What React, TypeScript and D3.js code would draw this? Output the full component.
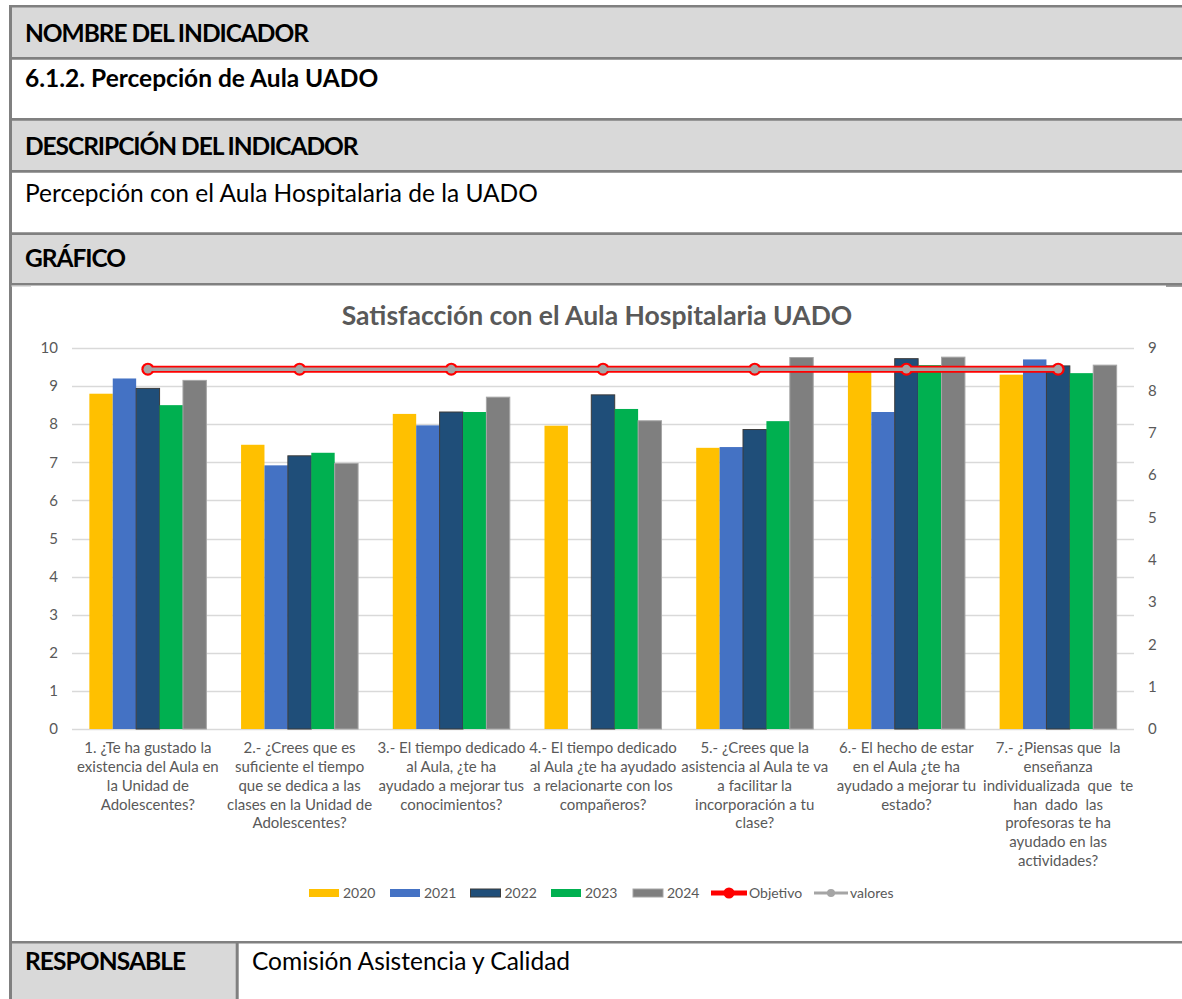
import { useEffect, useRef } from "react"
import * as d3 from "d3"

// ---- data ----
const categories = ['P1', 'P2', 'P3', 'P4', 'P5', 'P6', 'P7']
const categoryLines = [
    ['1. ¿Te ha gustado la', 'existencia del Aula en', 'la Unidad de', 'Adolescentes?'],
    ['2.- ¿Crees que es', 'suficiente el tiempo', 'que se dedica a las', 'clases en la Unidad de', 'Adolescentes?'],
    ['3.- El tiempo dedicado', 'al Aula, ¿te ha', 'ayudado a mejorar tus', 'conocimientos?'],
    ['4.- El tiempo dedicado', 'al Aula ¿te ha ayudado', 'a relacionarte con los', 'compañeros?'],
    ['5.- ¿Crees que la', 'asistencia al Aula te va', 'a facilitar la', 'incorporación a tu', 'clase?'],
    ['6.- El hecho de estar', 'en el Aula ¿te ha', 'ayudado a mejorar tu', 'estado?'],
    ['7.- ¿Piensas que  la', 'enseñanza', 'individualizada  que  te', 'han  dado  las', 'profesoras te ha', 'ayudado en las', 'actividades?'],
]
const years = ['2020', '2021', '2022', '2023', '2024']
const v2020 = [8.8, 7.46, 8.27, 7.96, 7.38, 9.45, 9.3]
const v2021 = [9.2, 6.92, 7.97, null, 7.4, 8.32, 9.7]
const v2022 = [8.94, 7.17, 8.32, 8.77, 7.86, 9.72, 9.53]
const v2023 = [8.5, 7.25, 8.32, 8.4, 8.08, 9.55, 9.34]
const v2024 = [9.15, 6.97, 8.71, 8.09, 9.75, 9.76, 9.55]
const objetivo = [8.5, 8.5, 8.5, 8.5, 8.5, 8.5, 8.5]
const valores = [8.5, 8.5, 8.5, 8.5, 8.5, 8.5, 8.5]
const leftTicks = [0, 1, 2, 3, 4, 5, 6, 7, 8, 9, 10]
const rightTicks = [0, 1, 2, 3, 4, 5, 6, 7, 8, 9]

const chartTitle = 'Satisfacción con el Aula Hospitalaria UADO'
// caps headings get a bit of negative tracking (Lato caps run wider than Calibri)
const tableTexts = [
    { text: 'NOMBRE DEL INDICADOR', bold: true, caps: true },
    { text: '6.1.2. Percepción de Aula UADO', bold: true, caps: false },
    { text: 'DESCRIPCIÓN DEL INDICADOR', bold: true, caps: true },
    { text: 'Percepción con el Aula Hospitalaria de la UADO', bold: false, caps: false },
    { text: 'GRÁFICO', bold: true, caps: true },
]
const responsableLabel = 'RESPONSABLE'
const responsableValue = 'Comisión Asistencia y Calidad'

const FONT = 'Lato, Carlito, Calibri, sans-serif'
const TEXT_GRAY = '#595959'
const BORDER = '#808080'

export default function App() {
    const ref = useRef<SVGSVGElement>(null)

    useEffect(() => {
        const svg = d3.select(ref.current)
        svg.selectAll('*').remove()
        buildTable(svg)
        buildChart(svg)
    }, [])

    function buildTable(svg: any) {
        const width = 1182
        svg.append('rect').attr('width', width).attr('height', 999).attr('fill', 'white')

        // grey header rows
        const greyRows = [[7, 57], [120, 170], [234, 283]]
        svg.append('g').selectAll('rect')
            .data(greyRows)
            .join('rect')
                .attr('x', 11).attr('y', (d: number[]) => d[0])
                .attr('width', width - 11).attr('height', (d: number[]) => d[1] - d[0] + 1)
                .attr('fill', '#d9d9d9')
        svg.append('rect')
            .attr('x', 11).attr('y', 943).attr('width', 225).attr('height', 56)
            .attr('fill', '#d9d9d9')

        // borders
        const hLines = [6.2, 58.4, 119.4, 171.4, 233.6, 284.3, 942.3]
        svg.append('g').selectAll('line')
            .data(hLines)
            .join('line')
                .attr('x1', 9).attr('x2', width)
                .attr('y1', (d: number) => d).attr('y2', (d: number) => d)
                .attr('stroke', BORDER).attr('stroke-width', 2.6)
        svg.append('line')
            .attr('x1', 10.5).attr('x2', 10.5).attr('y1', 5).attr('y2', 999)
            .attr('stroke', BORDER).attr('stroke-width', 3)
        svg.append('line')
            .attr('x1', 237.2).attr('x2', 237.2).attr('y1', 941).attr('y2', 999)
            .attr('stroke', BORDER).attr('stroke-width', 3)
        // little bits of the chart frame
        svg.append('line').attr('x1', 11).attr('x2', 31).attr('y1', 286).attr('y2', 286)
            .attr('stroke', '#bfbfbf').attr('stroke-width', 1)
        svg.append('line').attr('x1', 1166).attr('x2', width).attr('y1', 286).attr('y2', 286)
            .attr('stroke', BORDER).attr('stroke-width', 1.5)

        const rowCenters = [33, 78, 146, 193, 258]
        svg.append('g')
            .selectAll('text')
            .data(tableTexts)
            .join('text')
                .attr('x', 25)
                .attr('y', (_: any, i: number) => rowCenters[i])
                .attr('dy', '0.36em')
                .attr('font-family', FONT)
                .attr('font-size', 24.5)
                .attr('font-weight', (d: any) => d.bold ? 700 : 400)
                .attr('letter-spacing', (d: any) => d.caps ? -1.05 : 0)
                .attr('fill', 'black')
                .text((d: any) => d.text)

        svg.append('text')
            .attr('x', 25).attr('y', 961).attr('dy', '0.36em')
            .attr('font-family', FONT).attr('font-size', 24.5).attr('font-weight', 700)
            .attr('letter-spacing', -0.9)
            .text(responsableLabel)
        svg.append('text')
            .attr('x', 252).attr('y', 961).attr('dy', '0.36em')
            .attr('font-family', FONT).attr('font-size', 24.5)
            .text(responsableValue)
    }

    function buildChart(svg: any, {
        marginLeft = 72, // plot area left
        marginRight = 1134, // plot area right
        top = 348, // y of the top gridline
        bottom = 729, // y of the zero line
    } = {}) {
        const series = [v2020, v2021, v2022, v2023, v2024]
        const colors = ['#ffc000', '#4472c4', '#1f4e79', '#00b050', '#7f7f7f']
        const strokes = ['none', 'none', '#3b3b3b', 'none', '#a6a6a6']

        const x0 = d3.scaleBand()
            .domain(categories)
            .range([marginLeft, marginRight])
            .paddingInner(0.2287)
            .paddingOuter(0.1144)
        const x1 = d3.scaleBand()
            .domain(years)
            .range([0, x0.bandwidth()])
        const yL = d3.scaleLinear().domain([0, 10]).range([bottom, top])
        const yR = d3.scaleLinear().domain([0, 9]).range([bottom, top])

        // title
        svg.append('text')
            .attr('x', 597).attr('y', 315).attr('dy', '0.36em')
            .attr('text-anchor', 'middle')
            .attr('font-family', FONT).attr('font-size', 26.5).attr('font-weight', 700)
            .attr('fill', TEXT_GRAY)
            .text(chartTitle)

        // gridlines
        svg.append('g')
            .selectAll('line')
            .data(leftTicks)
            .join('line')
                .attr('x1', marginLeft).attr('x2', marginRight)
                .attr('y1', (d: number) => Math.round(yL(d)) + 0.5)
                .attr('y2', (d: number) => Math.round(yL(d)) + 0.5)
                .attr('stroke', '#d9d9d9').attr('stroke-width', 1.3)

        // left ticks
        svg.append('g')
            .selectAll('text')
            .data(leftTicks)
            .join('text')
                .attr('x', 58).attr('y', (d: number) => yL(d)).attr('dy', '0.35em')
                .attr('text-anchor', 'end')
                .attr('font-family', FONT).attr('font-size', 15).attr('fill', TEXT_GRAY)
                .text((d: number) => d)
        // right ticks
        svg.append('g')
            .selectAll('text')
            .data(rightTicks)
            .join('text')
                .attr('x', 1148).attr('y', (d: number) => yR(d)).attr('dy', '0.35em')
                .attr('text-anchor', 'start')
                .attr('font-family', FONT).attr('font-size', 15).attr('fill', TEXT_GRAY)
                .text((d: number) => d)

        // bars
        series.forEach((vals, s) => {
            svg.append('g')
                .selectAll('rect')
                .data(vals.map((v, i) => ({ cat: categories[i], v })).filter(d => d.v != null))
                .join('rect')
                    .attr('x', (d: any) => (x0(d.cat) as number) + (x1(years[s]) as number))
                    .attr('y', (d: any) => yL(d.v))
                    .attr('width', x1.bandwidth())
                    .attr('height', (d: any) => yL(0) - yL(d.v))
                    .attr('fill', colors[s])
                    .attr('stroke', strokes[s])
                    .attr('stroke-width', 1)
        })

        const cx = (i: number) => (x0(categories[i]) as number) + x0.bandwidth() / 2
        const line = d3.line<number>()
            .x((_, i) => cx(i))
            .y(d => yR(d))

        // Objetivo
        svg.append('path')
            .attr('d', line(objetivo))
            .attr('fill', 'none').attr('stroke', '#ff0000').attr('stroke-width', 7)
        svg.append('g').selectAll('circle')
            .data(objetivo)
            .join('circle')
                .attr('cx', (_: any, i: number) => cx(i)).attr('cy', (d: number) => yR(d))
                .attr('r', 6.5).attr('fill', '#ff0000')
        // valores
        svg.append('path')
            .attr('d', line(valores))
            .attr('fill', 'none').attr('stroke', '#a5a5a5').attr('stroke-width', 3.5)
        svg.append('g').selectAll('circle')
            .data(valores)
            .join('circle')
                .attr('cx', (_: any, i: number) => cx(i)).attr('cy', (d: number) => yR(d))
                .attr('r', 4.3).attr('fill', '#a5a5a5')

        // category labels
        const labels = svg.append('g')
            .attr('font-family', FONT).attr('font-size', 15).attr('fill', TEXT_GRAY)
            .attr('text-anchor', 'middle')
        categoryLines.forEach((lines, i) => {
            labels.append('g').selectAll('text')
                .data(lines)
                .join('text')
                    .attr('x', cx(i))
                    .attr('y', (_: any, j: number) => 748 + j * 18.8)
                    .attr('dy', '0.35em')
                    .attr('xml:space', 'preserve')
                    .style('white-space', 'pre')
                    .text((d: string) => d)
        })

        // legend
        const legY = 893
        const legend = svg.append('g').attr('font-family', FONT).attr('font-size', 14).attr('fill', TEXT_GRAY)
        const legX = [309, 390, 470.5, 551, 633]
        years.forEach((yr, s) => {
            legend.append('rect')
                .attr('x', legX[s]).attr('y', legY - 4).attr('width', 30).attr('height', 8)
                .attr('fill', colors[s])
                .attr('stroke', strokes[s]).attr('stroke-width', 1)
            legend.append('text')
                .attr('x', legX[s] + 34).attr('y', legY).attr('dy', '0.35em')
                .text(yr)
        })
        legend.append('line').attr('x1', 711).attr('x2', 747).attr('y1', legY).attr('y2', legY)
            .attr('stroke', '#ff0000').attr('stroke-width', 5)
        legend.append('circle').attr('cx', 729).attr('cy', legY).attr('r', 5.5).attr('fill', '#ff0000')
        legend.append('text').attr('x', 749).attr('y', legY).attr('dy', '0.35em').text('Objetivo')
        legend.append('line').attr('x1', 814).attr('x2', 848).attr('y1', legY).attr('y2', legY)
            .attr('stroke', '#a5a5a5').attr('stroke-width', 3)
        legend.append('circle').attr('cx', 831).attr('cy', legY).attr('r', 4).attr('fill', '#a5a5a5')
        legend.append('text').attr('x', 850).attr('y', legY).attr('dy', '0.35em').text('valores')
    }

    return (
        <svg ref={ref} width={1182} height={999}
            style={{ position: 'absolute', left: 0, top: 0, display: 'block' }} />
    )
}
